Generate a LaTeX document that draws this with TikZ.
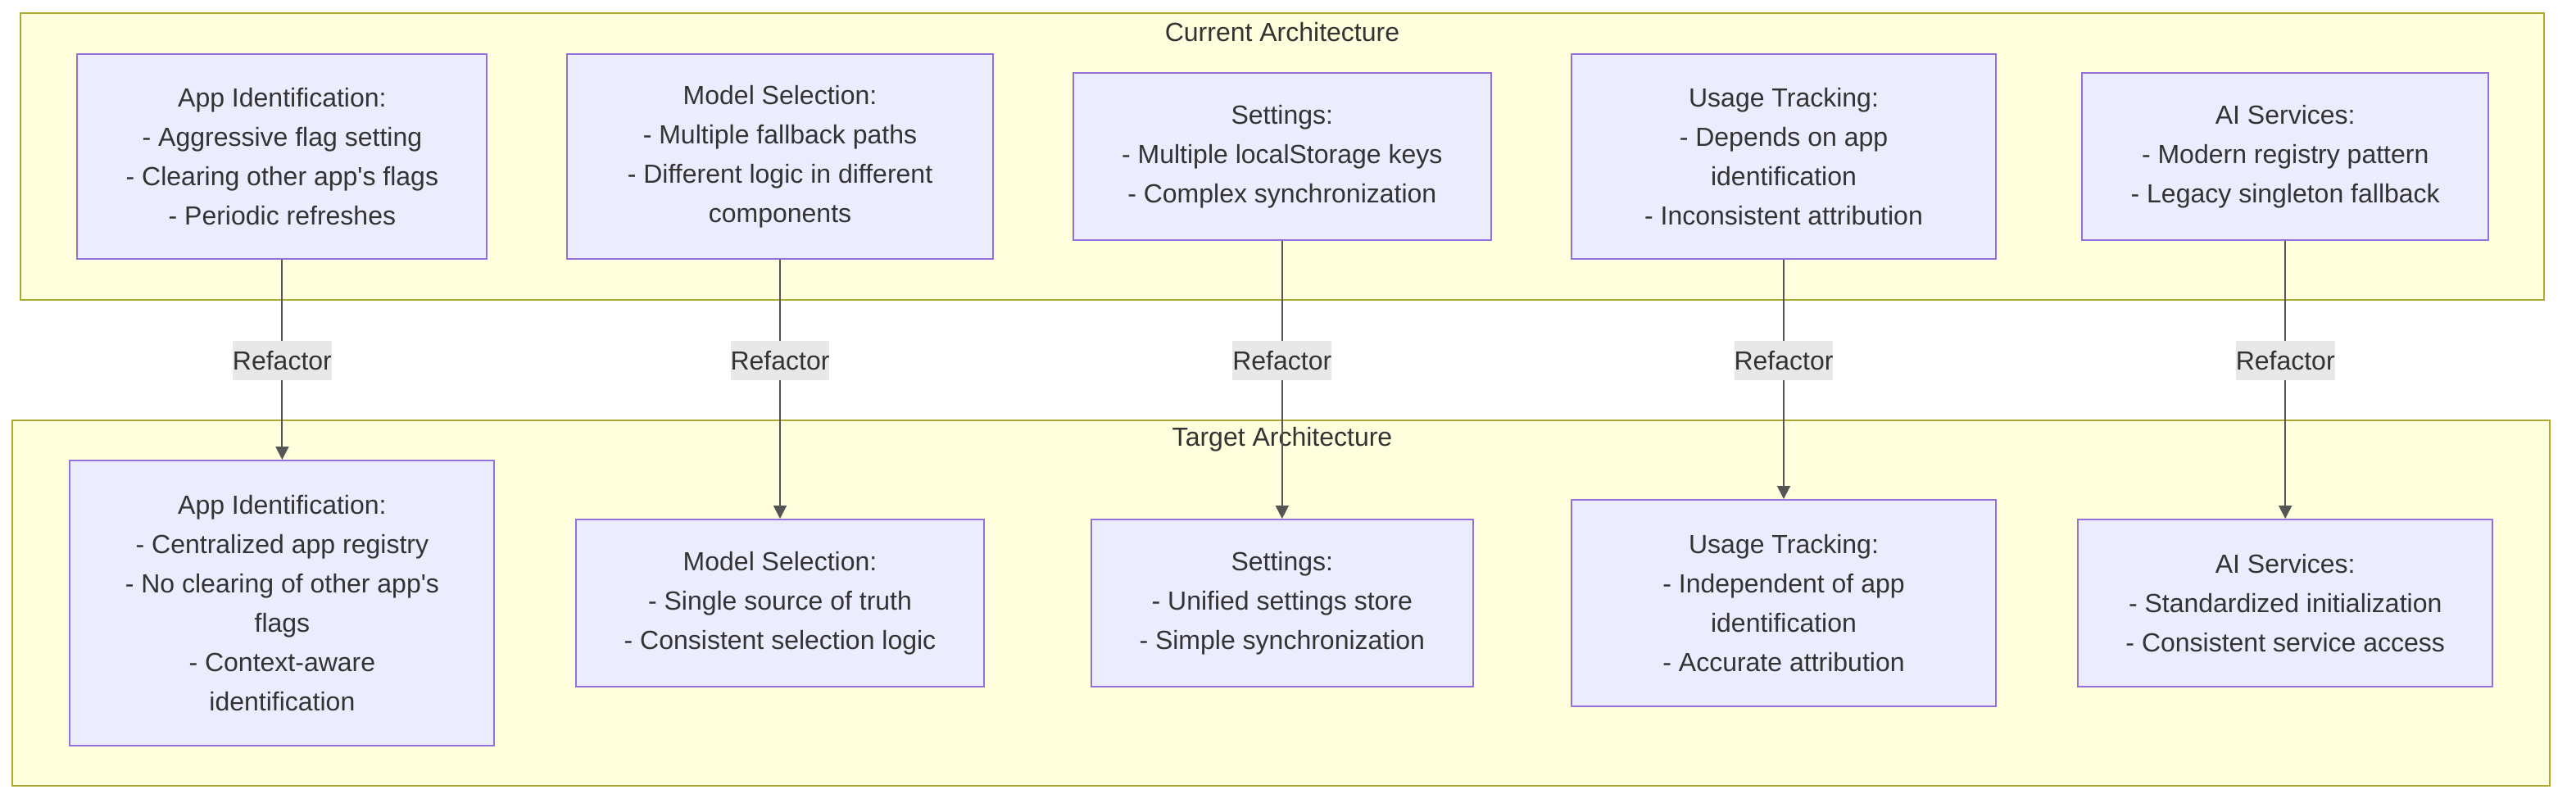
\documentclass[tikz,border=0pt]{standalone}
\usepackage{fontspec}
\setmainfont{Liberation Sans}
\usetikzlibrary{arrows.meta}
\definecolor{nodefill}{HTML}{ECECFF}
\definecolor{nodeline}{HTML}{9370DB}
\definecolor{clfill}{HTML}{FFFFDE}
\definecolor{clline}{HTML}{AAAA33}
\definecolor{txt}{HTML}{333333}
\definecolor{edgecol}{HTML}{555555}
\definecolor{lblbg}{HTML}{E8E8E8}
\begin{document}
\begin{tikzpicture}[x=1pt,y=-1pt,
  box/.style={draw=nodeline, fill=nodefill, line width=1pt, inner sep=0pt, align=center, text=txt, font=\fontsize{16}{24}\selectfont},
  cluster/.style={draw=clline, fill=clfill, line width=1pt, inner sep=0pt},
  cltitle/.style={text=txt, font=\fontsize{16}{24}\selectfont, inner sep=0pt},
  lbl/.style={fill=lblbg, text=txt, font=\fontsize{16}{24}\selectfont, inner sep=0pt, minimum width=60pt, minimum height=24pt},
  edge/.style={draw=edgecol, line width=1pt, -{Triangle[length=8pt,width=8pt]}}
]
\useasboundingbox (0,0) rectangle (1572,490);
% clusters
\node[cluster, minimum width=1540.4pt, minimum height=175.2pt] (cur) at (782.5,95.4) {};
\node[cltitle] (curt) at (782.5,19.5) {Current Architecture};
\node[cluster, minimum width=1548.3pt, minimum height=222.8pt] (tgt) at (781.85,368.1) {};
\node[cltitle] (tgtt) at (782.5,268) {Target Architecture};
% top nodes
\node[box, minimum width=250pt, minimum height=125pt] (t1) at (172.2,95.4) {App Identification:\\- Aggressive flag setting\\- Clearing other app\textquotesingle s flags\\- Periodic refreshes};
\node[box, minimum width=260pt, minimum height=125pt] (t2) at (476,95.4) {Model Selection:\\- Multiple fallback paths\\- Different logic in different\\components};
\node[box, minimum width=255pt, minimum height=102pt] (t3) at (782.4,95.4) {Settings:\\- Multiple localStorage keys\\- Complex synchronization};
\node[box, minimum width=259pt, minimum height=125pt] (t4) at (1088.5,95.4) {Usage Tracking:\\- Depends on app\\identification\\- Inconsistent attribution};
\node[box, minimum width=248pt, minimum height=102pt] (t5) at (1394.6,95.4) {AI Services:\\- Modern registry pattern\\- Legacy singleton fallback};
% bottom nodes
\node[box, minimum width=259pt, minimum height=174pt] (b1) at (172.2,368) {App Identification:\\- Centralized app registry\\- No clearing of other app\textquotesingle s\\flags\\- Context-aware\\identification};
\node[box, minimum width=249pt, minimum height=102pt] (b2) at (476,368) {Model Selection:\\- Single source of truth\\- Consistent selection logic};
\node[box, minimum width=233pt, minimum height=102pt] (b3) at (782.4,368) {Settings:\\- Unified settings store\\- Simple synchronization};
\node[box, minimum width=259pt, minimum height=126pt] (b4) at (1088.5,368) {Usage Tracking:\\- Independent of app\\identification\\- Accurate attribution};
\node[box, minimum width=253pt, minimum height=102pt] (b5) at (1394.6,368) {AI Services:\\- Standardized initialization\\- Consistent service access};
% edges
\draw[edge] (t1) -- (b1);
\draw[edge] (t2) -- (b2);
\draw[edge] (t3) -- (b3);
\draw[edge] (t4) -- (b4);
\draw[edge] (t5) -- (b5);
% labels
\node[lbl] (l1) at (172.2,220) {Refactor};
\node[lbl] (l2) at (476,220) {Refactor};
\node[lbl] (l3) at (782.4,220) {Refactor};
\node[lbl] (l4) at (1088.5,220) {Refactor};
\node[lbl] (l5) at (1394.6,220) {Refactor};
\end{tikzpicture}
\end{document}
